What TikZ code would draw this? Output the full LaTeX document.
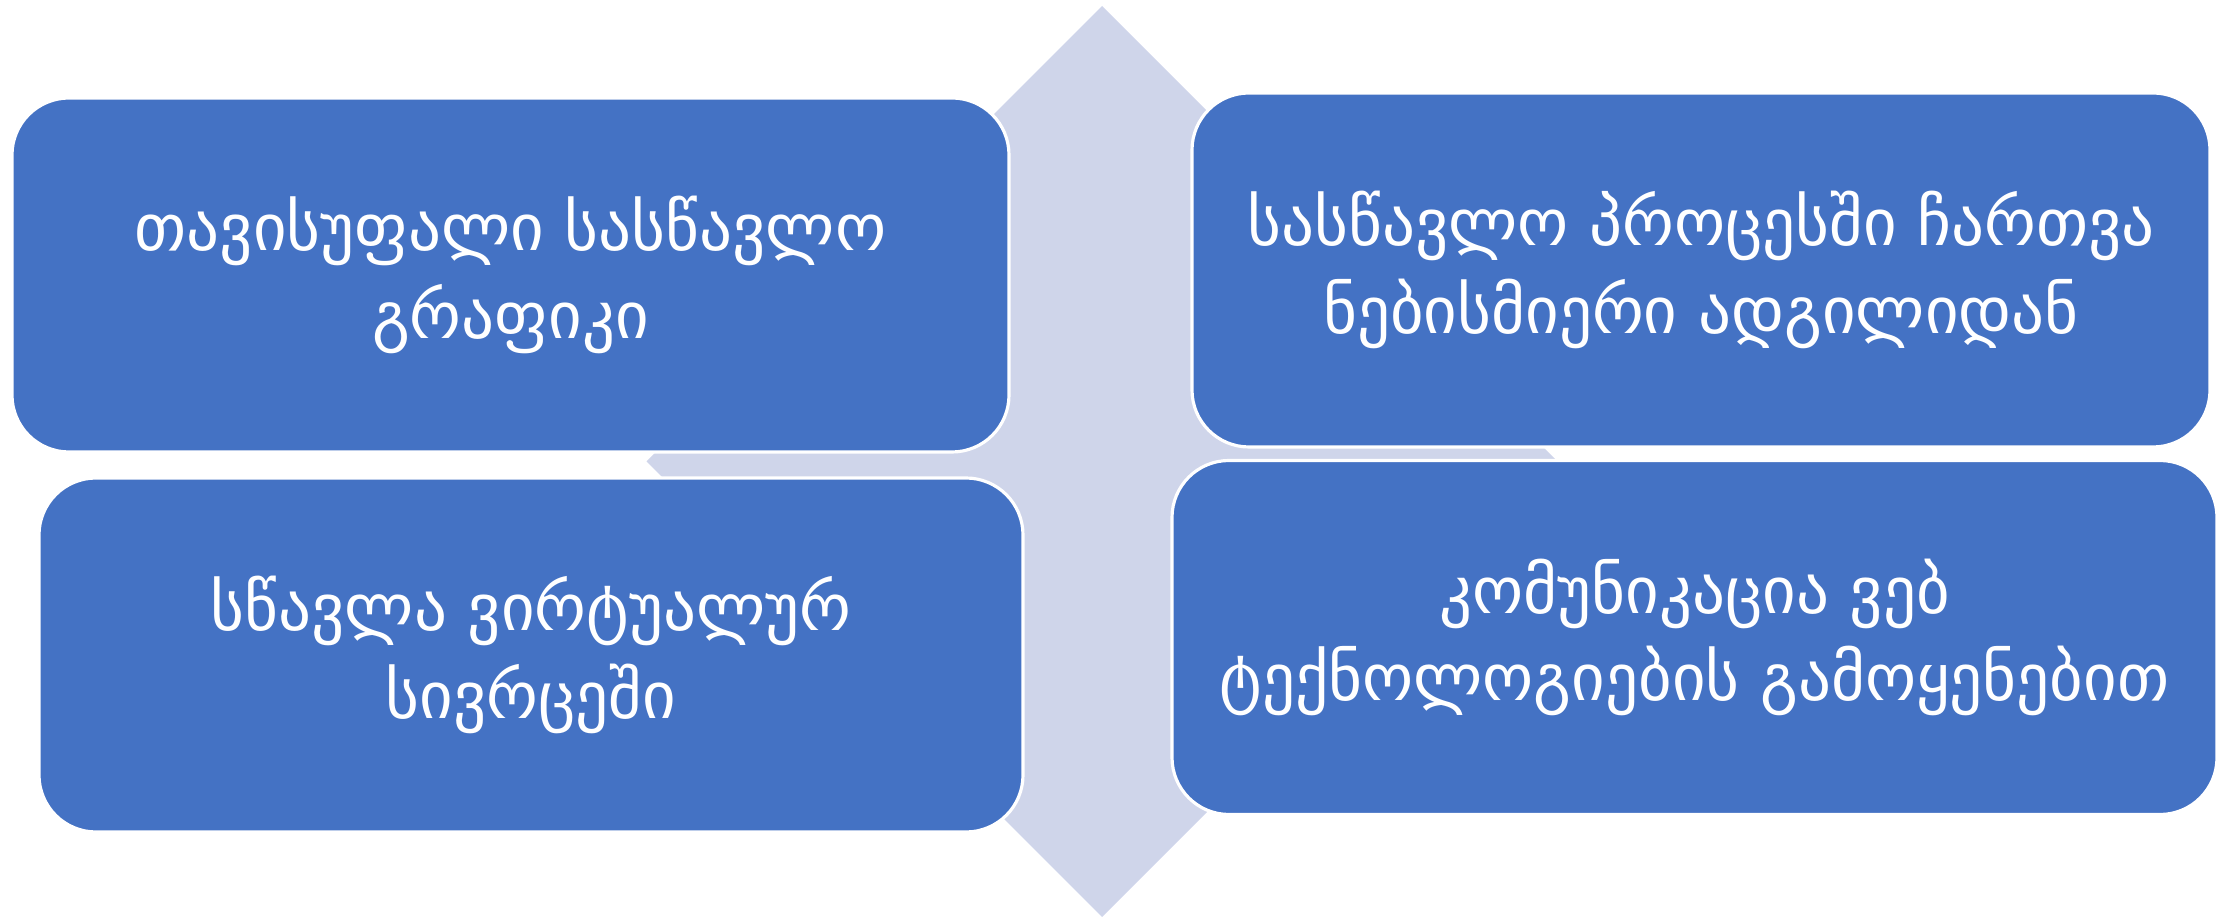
\documentclass[tikz,border=0pt]{standalone}
\usepackage{fontspec}
\setmainfont{DejaVu Sans}
\newfontfamily\geofont[Script=Georgian]{DejaVu Sans}
\usepackage{tikz}
\usetikzlibrary{positioning}
\definecolor{boxblue}{RGB}{68,114,196}
\definecolor{bglight}{RGB}{207,213,234}
\tikzset{
  box/.style={rectangle, draw=white, fill=boxblue, line width=0.9pt,
    rounded corners=0.57cm, minimum height=3.54cm, align=center,
    text=white, font=\geofont\fontsize{18.5}{25}\selectfont},
  backdrop/.style={fill=bglight}
}

\begin{document}
\begin{tikzpicture}
  \useasboundingbox (0,0) rectangle (22.34,9.18);

  % diamond behind the boxes
  \coordinate (mid) at (11.02,4.565);
  \fill[backdrop] (11.02,9.12) -- (15.575,4.565) -- (11.02,0.01) -- (6.465,4.565) -- cycle;

  % top row
  \node[box, minimum width=9.97cm] (sched) at (5.105,6.43)
    {თავისუფალი სასწავლო\\გრაფიკი};
  \node[box, minimum width=10.18cm] (access) at (17.01,6.48)
    {სასწავლო პროცესში ჩართვა\\ნებისმიერი ადგილიდან};

  % bottom row
  \node[box, minimum width=9.84cm] (virtual) at (5.31,2.63)
    {სწავლა ვირტუალურ\\სივრცეში};
  \node[box, minimum width=10.45cm] (webcom) at (16.945,2.805)
    {კომუნიკაცია ვებ\\ტექნოლოგიების გამოყენებით};
\end{tikzpicture}
\end{document}
